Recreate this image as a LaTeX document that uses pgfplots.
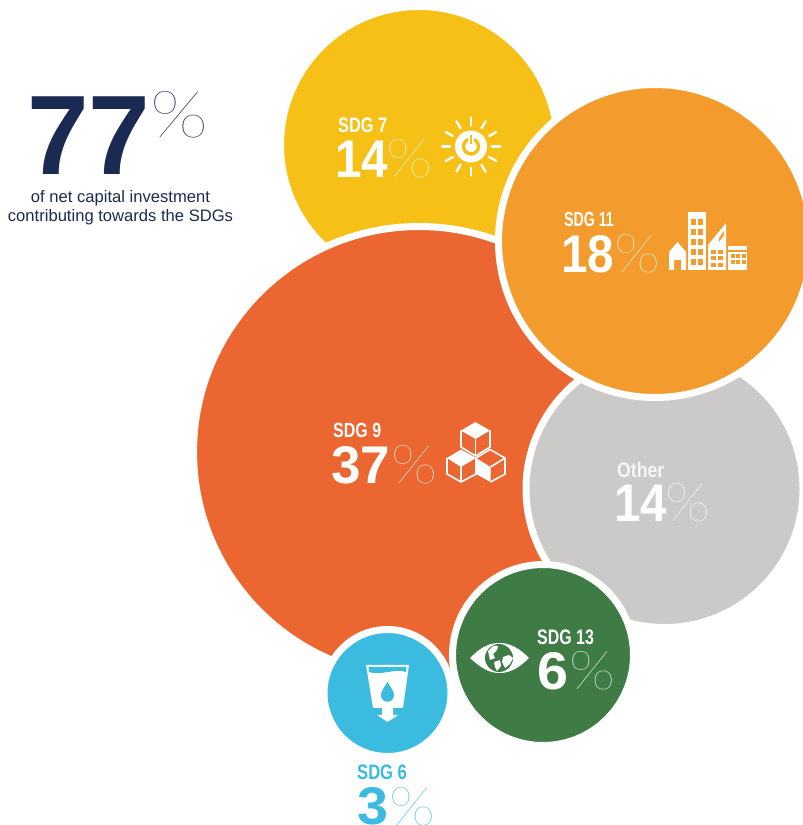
\documentclass[border=0pt]{standalone}
\usepackage{graphicx}
\usepackage{fontspec}
\setmainfont{Liberation Sans}
\newfontfamily\thina{Lato Thin}
\usepackage{pgfplots}
\pgfplotsset{compat=1.18}
\definecolor{navy}{HTML}{1B2A52}
\definecolor{cY}{HTML}{F6C017}
\definecolor{cO}{HTML}{F49B2D}
\definecolor{cR}{HTML}{EB6631}
\definecolor{cG}{HTML}{CBCAC8}
\definecolor{cD}{HTML}{3F7B45}
\definecolor{cB}{HTML}{3CBBE0}
% x left, y baseline, font size, x scale, colour, text
\newcommand\bt[6]{\node[anchor=base west,inner sep=0pt,text=#5] at (#1,#2) {\fontsize{#3}{#3}\selectfont\bfseries\scalebox{#4}[1]{#6}};}
\newcommand\pc[6][\thina]{\node[anchor=south west,inner sep=0pt,text=#5] at (#2,#3) {\resizebox{#4pt}{#6pt}{#1\%}};}
\begin{document}
\begin{tikzpicture}
\path[clip,use as bounding box] (0,0) rectangle (803pt,825pt);
\begin{axis}[at={(0,0)},anchor=south west,scale only axis,width=803pt,height=825pt,
  xmin=0,xmax=803,ymin=0,ymax=825,y dir=reverse,hide axis,clip=false]
% SDG 7 = 14
\addplot[only marks,mark=*,mark size=138.5pt,mark options={fill=cY,draw=white,line width=7pt}] coordinates {(419,145)};
% SDG 9 = 37
\addplot[only marks,mark=*,mark size=225.5pt,mark options={fill=cR,draw=white,line width=7pt}] coordinates {(419,452)};
% Other = 14
\addplot[only marks,mark=*,mark size=138.5pt,mark options={fill=cG,draw=white,line width=7pt}] coordinates {(664.5,489)};
% SDG 11 = 18
\addplot[only marks,mark=*,mark size=156.5pt,mark options={fill=cO,draw=white,line width=7pt}] coordinates {(655,241)};
% SDG 13 = 6
\addplot[only marks,mark=*,mark size=90.5pt,mark options={fill=cD,draw=white,line width=7pt}] coordinates {(543,655)};
% SDG 6 = 3
\addplot[only marks,mark=*,mark size=63.5pt,mark options={fill=cB,draw=white,line width=7pt}] coordinates {(387.5,693)};
\end{axis}
\begin{scope}[x=1pt,y=-1pt,shift={(0pt,825pt)}]
% headline
\bt{27}{175}{113}{.98}{navy}{77}
\pc{150}{138}{58}{navy}{46}
\node[text=navy,font=\fontsize{16.6}{19.5}\selectfont,align=center,inner sep=0pt] at (120.5,207.5) {of net capital investment\\contributing towards the SDGs};
% SDG 7
\bt{338}{133}{21}{.78}{white}{SDG 7}
\bt{335}{178}{53}{.9}{white}{14}
\pc{386}{178}{46}{white}{38}
\begin{scope}[shift={(471,146.5)}]
 \foreach \a in {0,30,...,330}{\draw[white,line width=2.4pt,line cap=round] (\a:21) -- (\a:29);}
 \fill[white] (0,0) circle (16);
 \draw[cY,line width=3.4pt] (0,0) circle (7.5);
 \draw[white,line width=5.5pt] (0,-14) -- (0,-4);
 \draw[cY,line width=1.6pt] (0,-11) -- (0,-2);
\end{scope}
% SDG 11
\bt{564}{227}{20.5}{.69}{white}{SDG 11}
\bt{561}{273}{53}{.9}{white}{18}
\pc{614}{273}{46}{white}{38}
\fill[white] (669,252) -- (677.5,242) -- (686,252) -- (686,270) -- (681,270) -- (681,260) -- (674,260) -- (674,270) -- (669,270) -- cycle;
\fill[white] (688,212) rectangle (706,270);
\foreach \i in {0,1,2,3,4} \foreach \j in {0,1}{\fill[cO] ({691+\j*6.8},{219+\i*10}) rectangle ++(5,6);}
\fill[white] (708,245) -- (726,223) -- (726,270) -- (708,270) -- cycle;
\foreach \i in {0,1,2} \foreach \j in {0,1}{\fill[cO] ({711+\j*7},{250+\i*6.5}) rectangle ++(5,4);}
\fill[cO] (719,238) -- (724,231) -- (724,235) -- (719,242)--cycle;
\fill[white] (728,246) rectangle (747,270);
\fill[cO] (728,250.5) rectangle (747,252);
\foreach \i in {0,1} \foreach \j in {0,1,2}{\fill[cO] ({730.5+\j*5.5},{254+\i*6}) rectangle ++(4,4);}
% SDG 9
\bt{333}{438}{20.5}{.78}{white}{SDG 9}
\bt{331}{484}{53}{1}{white}{37}
\pc{391}{484}{46}{white}{38}
\begin{scope}[white,line width=1.6pt,line join=round]
 % top cube
 \fill (475.5,422) -- (490,430.5) -- (475.5,439) -- (461,430.5) -- cycle;
 \draw (461,430.5) -- (461,447) -- (475.5,456) -- (490,447) -- (490,430.5);
 \draw (475.5,439) -- (475.5,456);
 % bottom left
 \fill (461,449.5) -- (476,458) -- (461,467) -- (447,458) -- cycle;
 \draw (447,458) -- (447,474) -- (461,482) -- (476,474) -- (476,458);
 \draw (461,467) -- (461,482);
 % bottom right
 \fill (476,458) -- (490.5,467) -- (490.5,482) -- (476,474) -- cycle;
 \draw (476,458) -- (490,449.5) -- (505,458) -- (490.5,467);
 \draw (505,458) -- (505,474) -- (490.5,482);
\end{scope}
% Other
\bt{617}{478}{21}{.84}{white!85!cG}{Other}
\bt{614}{522}{53}{.9}{white}{14}
\pc{665}{522}{45}{white}{38}
% SDG 13
\bt{537}{645}{21}{.76}{white}{SDG 13}
\bt{537}{690}{53}{1.05}{white}{6}
\pc{569}{690}{46}{white}{38}
\fill[white] (470,658) .. controls (482,646) and (490,643) .. (499.5,643) .. controls (509,643) and (518,647) .. (529,658) .. controls (518,669) and (509,673) .. (499.5,673) .. controls (490,673) and (482,669) .. (470,658) -- cycle;
\fill[cD] (499,658) circle (14);
\fill[white] (488,651) -- (493,646) -- (498,646) -- (497,650) -- (493,654) -- (495,658) -- (490,660) -- cycle;
\fill[white] (494,662) -- (500,660) -- (501,666) -- (497,671) -- (495,667) -- cycle;
\fill[white] (503,657) -- (509,655) -- (513,658) -- (510,664) -- (505,668) -- (502,662) -- cycle;
% SDG 6
\fill[white] (366,665) -- (409,665) -- (403,708) -- (393,708) -- (393,715) -- (398,715) -- (387.5,722) -- (377,715) -- (382,715) -- (382,708) -- (373,708) -- cycle;
\fill[cB] (368.5,667) -- (406.5,667) -- (406,672) .. controls (396,668) and (380,676) .. (369,672) -- cycle;
\fill[cB] (387.5,682) .. controls (391,688) and (394,691) .. (394,695) .. controls (394,704) and (381,704) .. (381,695) .. controls (381,691) and (384,688) .. (387.5,682) -- cycle;
\bt{357}{780}{21}{.79}{cB}{SDG 6}
\bt{357}{825}{53}{1.05}{cB}{3}
\pc{389}{826}{46}{cB}{38}
\end{scope}
\end{tikzpicture}
\end{document}
